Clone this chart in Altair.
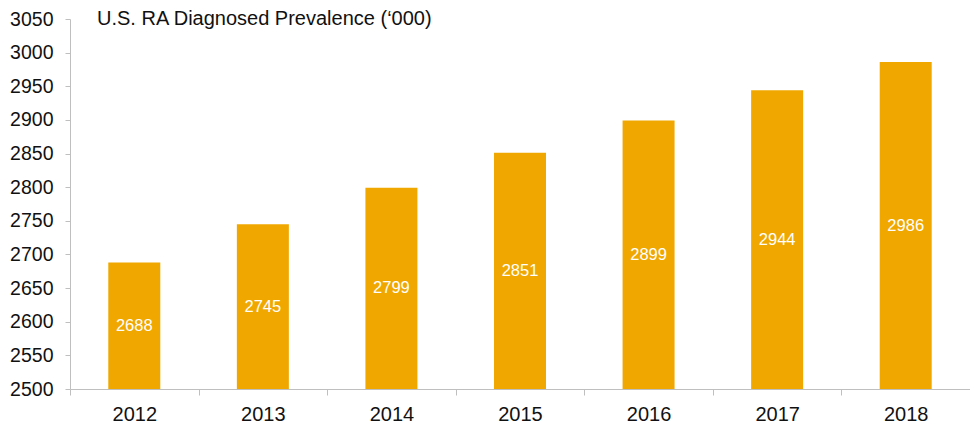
import altair as alt
import pandas as pd

years = ["2012", "2013", "2014", "2015", "2016", "2017", "2018"]
values = [2688, 2745, 2799, 2851, 2899, 2944, 2986]
title_text = "U.S. RA Diagnosed Prevalence (\u2018000)"
y_ticks = list(range(2500, 3051, 50))

df = pd.DataFrame({"year": years, "value": values})

FONT = "Liberation Sans"
BAR = "#F0A800"
AXIS = "#BFBFBF"

x_axis = alt.Axis(labelAngle=0, labelFontSize=20, labelFont=FONT, labelColor="#111111",
                  domainColor=AXIS, tickColor=AXIS, tickSize=6, tickBand="extent",
                  labelPadding=9, grid=False)
y_axis = alt.Axis(values=y_ticks, format="d", labelOverlap=False,
                  labelFontSize=19.5, labelFont=FONT, labelColor="#111111",
                  domainColor=AXIS, tickColor=AXIS, tickSize=5, labelPadding=12,
                  grid=False)
x_scale = alt.Scale(paddingInner=0, paddingOuter=0)
y_scale = alt.Scale(domain=[2500, 3050], nice=False, zero=False)

base = alt.Chart(df)

bars = base.mark_bar(color=BAR, size=52).encode(
    x=alt.X("year:N", title=None, sort=years, scale=x_scale, axis=x_axis),
    y=alt.Y("value:Q", title=None, scale=y_scale, axis=y_axis),
    y2=alt.datum(2500),
)

labels = base.transform_calculate(mid="(datum.value + 2500) / 2").mark_text(
    color="white", fontSize=16.5, font=FONT, baseline="middle", align="center"
).encode(
    x=alt.X("year:N", title=None, sort=years, scale=x_scale, axis=x_axis),
    y=alt.Y("mid:Q", title=None, scale=y_scale, axis=y_axis),
    text=alt.Text("value:Q", format="d"),
)

title = alt.Chart(pd.DataFrame({"t": [title_text]})).mark_text(
    align="left", baseline="middle", fontSize=20, font=FONT, color="#111111"
).encode(x=alt.value(27), y=alt.value(0), text="t:N")

chart = alt.layer(bars, labels, title).properties(
    width=900, height=370,
    autosize=alt.AutoSizeParams(type="none"),
    padding={"left": 70, "top": 19, "right": 0, "bottom": 34},
).configure_view(stroke=None)

chart.save("out.html", embed_options={"renderer": "svg", "actions": False})
